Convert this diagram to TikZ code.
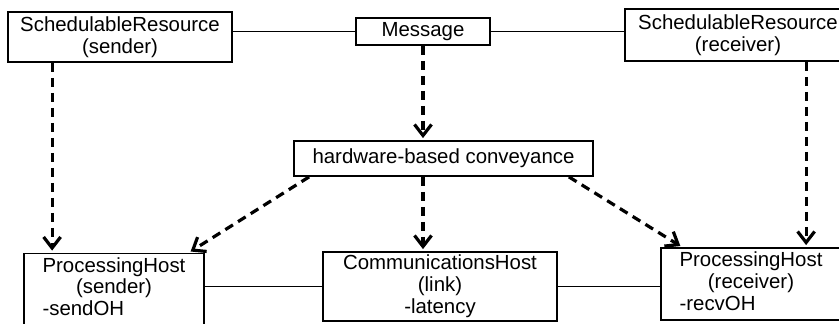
\documentclass[tikz,border=0pt]{standalone}
\usepackage{fontspec}
\setmainfont{Liberation Sans}
\usepackage{tikz}
\usetikzlibrary{arrows.meta,calc}
\newcommand{\hostlabel}[3]{\begin{tabular}{@{}c@{}}#1\\#2\\\multicolumn{1}{@{}l@{}}{#3}\end{tabular}}
\tikzset{
  unit/.style={draw=black,line width=0.9pt,inner sep=0pt,align=center,font=\fontsize{10.2}{10.9}\selectfont},
  link/.style={draw=black,line width=0.75pt},
  dep/.style={draw=black,line width=1.6pt,dash pattern=on 4.5pt off 3pt,-{Straight Barb[length=5.5pt,width=8.5pt]},shorten >=1pt}
}
\begin{document}
\begin{tikzpicture}[x=0.5pt,y=-0.5pt]
    \useasboundingbox (0,0) rectangle (839,324);
    \node[unit,minimum width=112pt,minimum height=25pt] (srs) at (120,37) {SchedulableResource\\(sender)};
    \node[unit,minimum width=67pt,minimum height=13.5pt] (msg) at (423,31.5) {Message};
    \node[unit,minimum width=113pt,minimum height=26pt] (srr) at (738,35) {SchedulableResource\\(receiver)};
    \node[unit,minimum width=149.5pt,minimum height=17.5pt] (hw) at (443.5,158.5) {hardware-based conveyance};
    \node[unit,minimum width=90pt,minimum height=36pt] (phs) at (114,289.5) {\hostlabel{ProcessingHost}{(sender)}{-sendOH}};
    \node[unit,minimum width=117pt,minimum height=34.5pt] (comm) at (440,286.5) {CommunicationsHost\\(link)\\-latency};
    \node[unit,minimum width=90pt,minimum height=36pt] (phr) at (751,284) {\hostlabel{ProcessingHost}{(receiver)}{-recvOH}};
    % associations
    \draw[link] (msg.west) -- (msg.west -| srs.east);
    \draw[link] (msg.east) -- (msg.east -| srr.west);
    \draw[link] (comm.west) -- (comm.west -| phs.east);
    \draw[link] (comm.east) -- (comm.east -| phr.west);
    % dependencies
    \coordinate (sdrop) at ($(srs.south west)+(45,0)$);
    \coordinate (rdrop) at ($(srr.south west)+(182,0)$);
    \draw[dep] (sdrop) -- (sdrop |- phs.north);
    \draw[dep] (rdrop) -- (rdrop |- phr.north);
    \draw[dep] (msg.south) -- (msg.south |- hw.north);
    \draw[dep] (msg.south |- hw.south) -- (msg.south |- comm.north);
    \draw[dep] ($(hw.south west)+(16,0)$) -- ($(phs.north east)+(-16,0)$);
    \draw[dep] ($(hw.south east)+(-25,0)$) -- ($(phr.north west)+(22,0)$);
\end{tikzpicture}
\end{document}
